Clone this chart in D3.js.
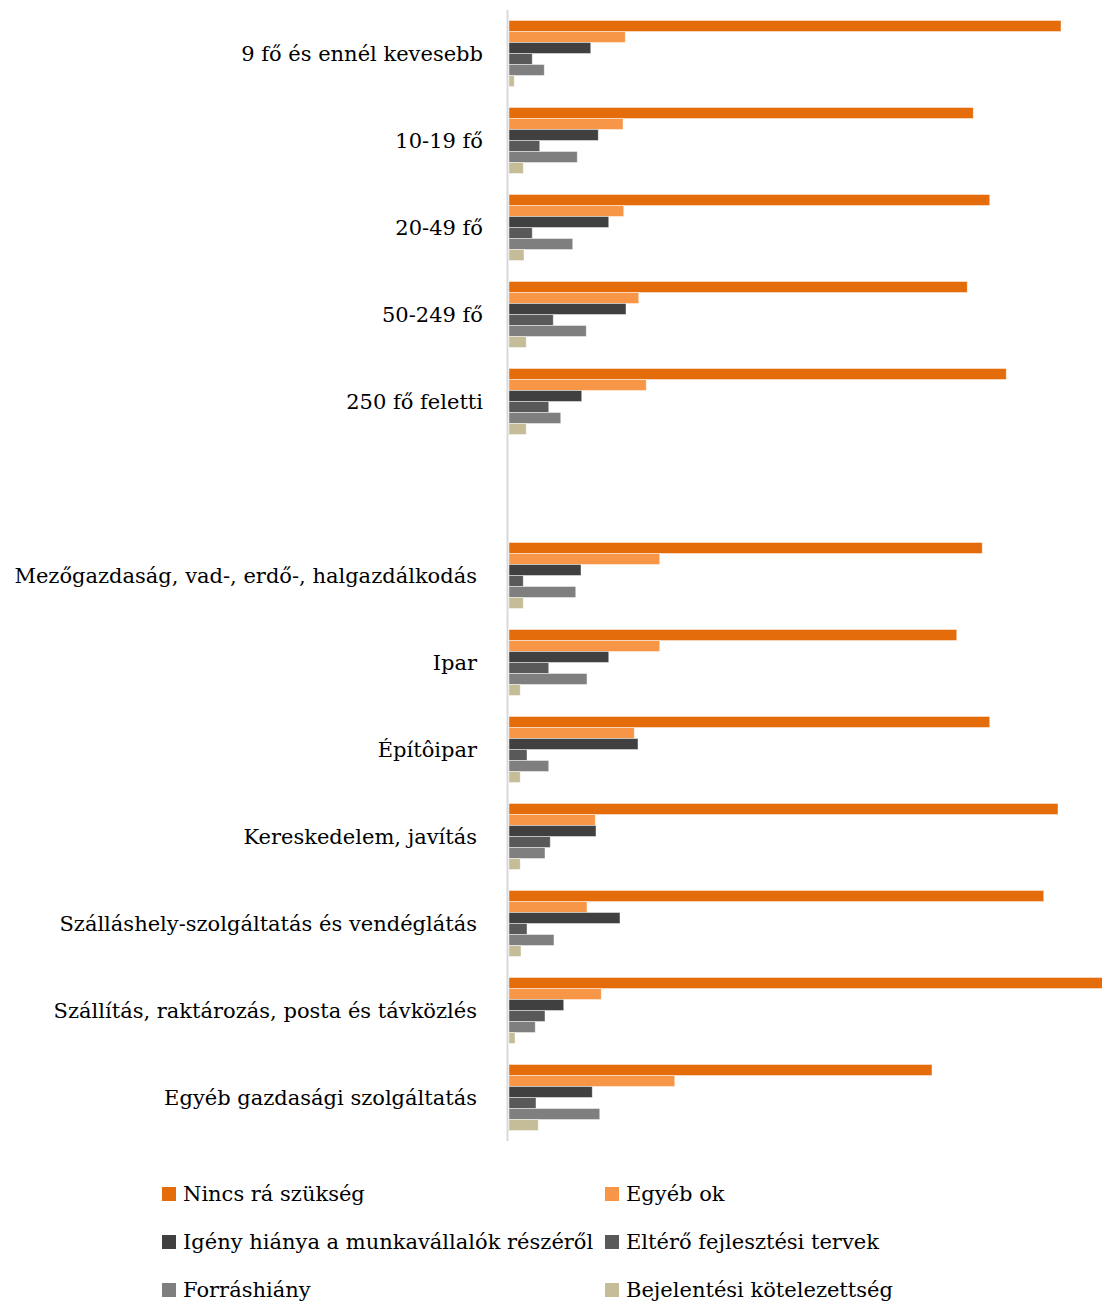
<!DOCTYPE html>
<html>
<head>
<meta charset="utf-8">
<script src="https://cdn.jsdelivr.net/npm/d3@7"></script>
<style>
  html, body { margin: 0; padding: 0; background: #fff; }
  svg { display: block; }
  text { font-family: "DejaVu Serif", "Liberation Serif", serif; fill: #000; }
</style>
</head>
<body>
<svg id="chart" width="1102" height="1304"></svg>
<script>
// ---- data ----
const categories = [
  "9 fő és ennél kevesebb",
  "10-19 fő",
  "20-49 fő",
  "50-249 fő",
  "250 fő feletti",
  "",
  "Mezőgazdaság, vad-, erdő-, halgazdálkodás",
  "Ipar",
  "Építôipar",
  "Kereskedelem, javítás",
  "Szálláshely-szolgáltatás és vendéglátás",
  "Szállítás, raktározás, posta és távközlés",
  "Egyéb gazdasági szolgáltatás"
];
const categoryGroup = ["size","size","size","size","size","gap","sector","sector","sector","sector","sector","sector","sector"];

const seriesNames = [
  "Nincs rá szükség",
  "Egyéb ok",
  "Igény hiánya a munkavállalók részéről",
  "Eltérő fejlesztési tervek",
  "Forráshiány",
  "Bejelentési kötelezettség"
];
const seriesColors = ["#E46C0A", "#F79646", "#404040", "#595959", "#7F7F7F", "#C4BD97"];

const nincsRaSzukseg   = [73.6, 61.9, 64.1, 61.1, 66.3, null, 63.1, 59.7, 64.1, 73.2, 71.3, 80.0, 56.4];
const egyebOk          = [15.5, 15.2, 15.3, 17.3, 18.3, null, 20.1, 20.1, 16.7, 11.5, 10.4, 12.3, 22.1];
const igenyHianya      = [10.9, 11.9, 13.3, 15.6,  9.7, null,  9.6, 13.3, 17.2, 11.6, 14.8,  7.3, 11.1];
const elteroTervek     = [ 3.1,  4.1,  3.1,  5.9,  5.3, null,  1.9,  5.3,  2.4,  5.5,  2.4,  4.8,  3.6];
const forrashiany      = [ 4.7,  9.1,  8.5, 10.3,  6.9, null,  8.9, 10.4,  5.3,  4.8,  6.0,  3.5, 12.1];
const bejelentesi      = [ 0.7,  1.9,  2.0,  2.3,  2.3, null,  1.9,  1.5,  1.5,  1.5,  1.6,  0.8,  3.9];

const seriesValues = [nincsRaSzukseg, egyebOk, igenyHianya, elteroTervek, forrashiany, bejelentesi];

// ---- chart ----
const svg = d3.select("#chart");
const fontSize = 21;

const x = d3.scaleLinear().domain([0, 80]).range([509, 1109]);
const y = d3.scaleBand().domain(d3.range(categories.length)).range([10, 1141])
  .paddingInner(0.2414).paddingOuter(0.1207);
const ySub = d3.scaleBand().domain(d3.range(seriesNames.length)).range([0, y.bandwidth()]);

const groups = svg.append("g").selectAll("g")
  .data(categories.map((c, i) => ({ c, i })))
  .join("g")
  .attr("transform", d => `translate(0,${y(d.i)})`);

groups.selectAll("rect")
  .data(d => seriesValues.map((vals, s) => ({ s, v: vals[d.i] })).filter(e => e.v != null))
  .join("rect")
  .attr("x", x(0))
  .attr("y", e => ySub(e.s))
  .attr("width", e => x(e.v) - x(0))
  .attr("height", ySub.bandwidth())
  .attr("fill", e => seriesColors[e.s])
  .attr("stroke", "rgba(255,255,255,0.55)")
  .attr("stroke-width", 0.8);

// vertical axis line
svg.append("line")
  .attr("x1", x(0) - 1.5).attr("x2", x(0) - 1.5)
  .attr("y1", y.range()[0]).attr("y2", y.range()[1])
  .attr("stroke", "#D9D9D9").attr("stroke-width", 2);

// category labels
svg.append("g").selectAll("text")
  .data(categories.map((c, i) => ({ c, i })))
  .join("text")
  .attr("x", d => categoryGroup[d.i] === "size" ? 483 : 477)
  .attr("y", d => y(d.i) + y.bandwidth() / 2)
  .attr("dy", "0.35em")
  .attr("text-anchor", "end")
  .attr("font-size", fontSize)
  .text(d => d.c);

// legend
const legendCols = [162, 605];
const legendRows = [1194, 1242, 1290];
const legend = svg.append("g").selectAll("g")
  .data(seriesNames.map((n, i) => ({ n, i })))
  .join("g")
  .attr("transform", d => `translate(${legendCols[d.i % 2]},${legendRows[Math.floor(d.i / 2)]})`);
legend.append("rect")
  .attr("x", 0).attr("y", -7).attr("width", 14).attr("height", 14)
  .attr("fill", d => seriesColors[d.i]);
legend.append("text")
  .attr("x", 21).attr("y", 0).attr("dy", "0.35em")
  .attr("font-size", fontSize)
  .text(d => d.n);
</script>
</body>
</html>
